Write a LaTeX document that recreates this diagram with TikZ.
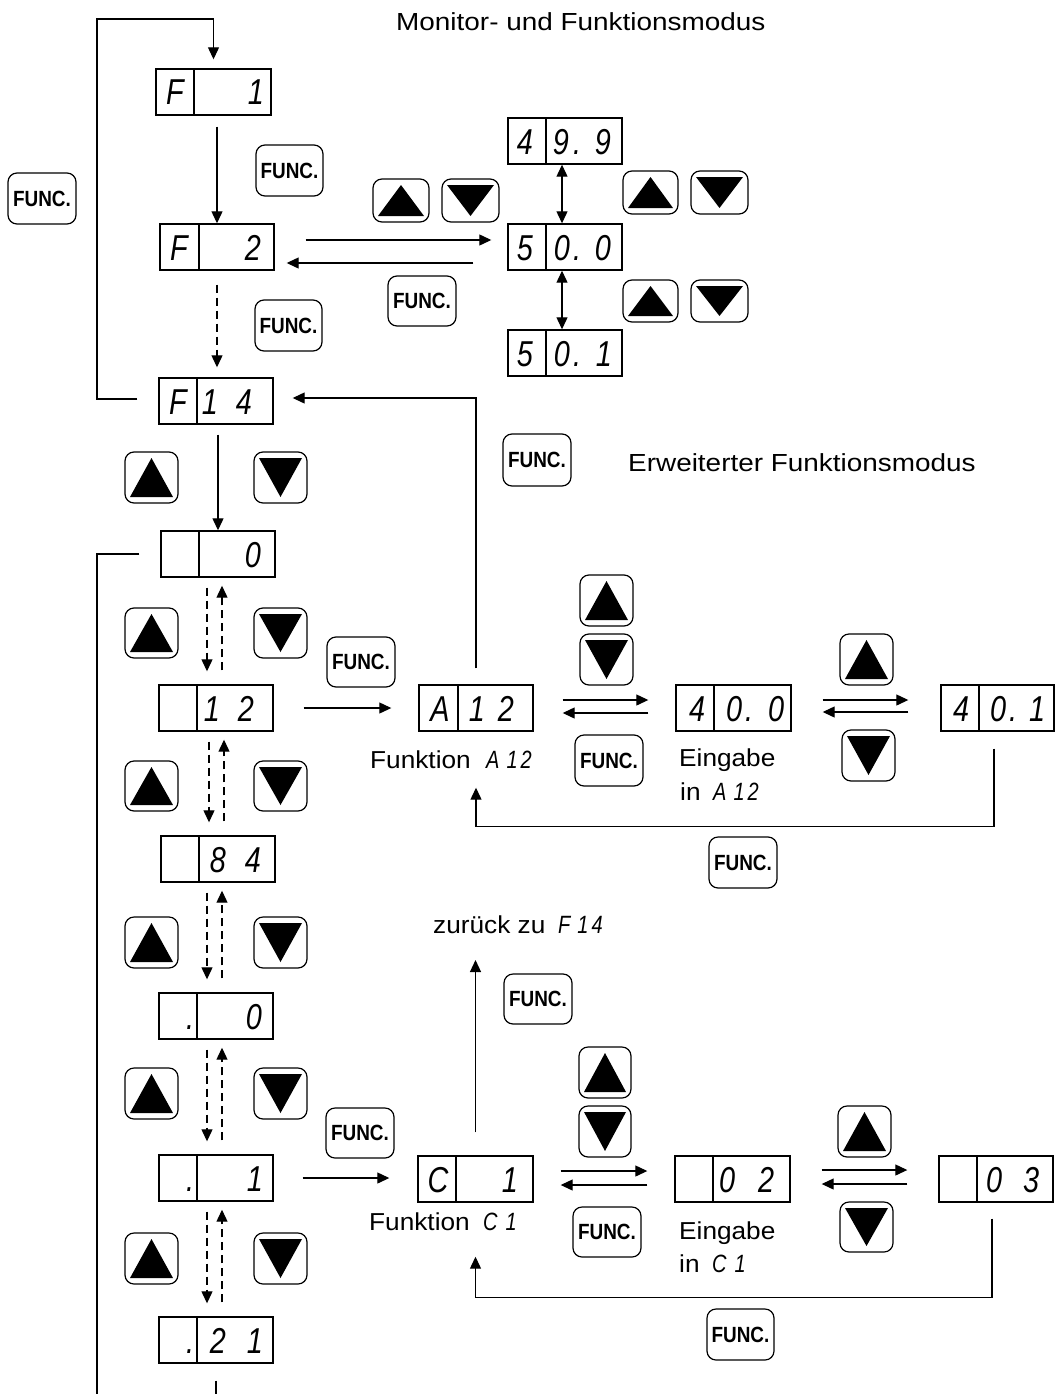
\documentclass[tikz,border=0pt]{standalone}
\usepackage{fontspec}
\setmainfont{Liberation Sans}
\newfontfamily\titlefont{Liberation Sans}[FakeStretch=1.13]
\newfontfamily\labfont{Liberation Sans}[FakeStretch=1.07]
\newfontfamily\funcfont{Liberation Sans}[FakeStretch=0.86]
\newfontfamily\segfont{Liberation Sans}[FakeStretch=0.8]
\usetikzlibrary{arrows.meta,calc}
\tikzset{
 disp/.style={draw, line width=1.4pt, inner sep=0pt, rectangle},
 dispdiv/.style={line width=1.2pt},
 seg/.style={font=\segfont\itshape\fontsize{36}{40}\selectfont, anchor=base, inner sep=0pt},
 segs/.style={font=\segfont\itshape\fontsize{25}{28}\selectfont, anchor=base west, inner sep=0pt},
 lab/.style={font=\labfont\fontsize{24.5}{28}\selectfont, anchor=base west, inner sep=0pt},
 ttl/.style={font=\titlefont\fontsize{24.7}{28}\selectfont, anchor=base west, inner sep=0pt},
 fbtn/.style={draw, rounded corners=9pt, line width=1.2pt, inner sep=0pt, font=\funcfont\bfseries\fontsize{22}{24}\selectfont},
 abtn/.style={draw, rounded corners=9pt, line width=1.2pt, inner sep=0pt},
 conn/.style={line width=1.2pt},
 arr/.style={conn, -{Triangle[length=12pt,width=11pt]}},
 darr/.style={arr, dash pattern=on 8pt off 5pt},
 arr2/.style={conn, {Triangle[length=12pt,width=11pt]}-{Triangle[length=12pt,width=11pt]}},
}
\newcommand\dispbox[6]{\node[disp, minimum width={(#4-#2)*1pt}, minimum height={(#5-#3)*1pt}] (#1) at ({(#2+#4)/2},{(#3+#5)/2}) {};\draw[dispdiv] (#6,#3) -- (#6,#5);}
\newcommand\sgd[4]{\node[seg] (#1) at (#2,#3) {#4};}
\newcommand\upbtn[5]{\node[abtn, minimum width={(#4-#2)*1pt}, minimum height={(#5-#3)*1pt}] (#1) at ({(#2+#4)/2},{(#3+#5)/2}) {};\fill ({#2+5},{#5-6}) -- ({#4-5},{#5-6}) -- ({(#2+#4)/2},{#3+6}) -- cycle;}
\newcommand\dnbtn[5]{\node[abtn, minimum width={(#4-#2)*1pt}, minimum height={(#5-#3)*1pt}] (#1) at ({(#2+#4)/2},{(#3+#5)/2}) {};\fill ({#2+5},{#3+6}) -- ({#4-5},{#3+6}) -- ({(#2+#4)/2},{#5-6}) -- cycle;}
\newcommand\funcbtn[5]{\node[fbtn, minimum width={(#4-#2)*1pt}, minimum height={(#5-#3)*1pt}] (#1) at ({(#2+#4)/2},{(#3+#5)/2}) {FUNC.};}
\newcommand\dpair[2]{%
 \draw[darr] ($(#1.south -| #2.north)+(-9,10)$) -- ($(#2.north)+(-9,-13)$);
 \draw[darr] ($(#2.north)+(6,-14)$) -- ($(#1.south -| #2.north)+(6,8)$);}
\begin{document}
\begin{tikzpicture}[x=1pt,y=-1pt]
\useasboundingbox (0,0) rectangle (1055,1394);
% titles
\node[ttl] (title1) at (396,31) {Monitor- und Funktionsmodus};
\node[ttl] (title2) at (628,471) {Erweiterter Funktionsmodus};
% displays
\dispbox{f1}{156}{69}{271}{115}{194}
\sgd{f1a}{175}{105}{F}\sgd{f1b}{256}{105}{1}
\dispbox{f2}{160}{224}{274}{270}{199}
\sgd{f2a}{179}{260}{F}\sgd{f2b}{253}{260}{2}
\dispbox{f14}{159}{378}{273}{424}{197}
\sgd{f14a}{178}{414}{F}\sgd{f14b}{210}{414}{1}\sgd{f14c}{244}{414}{4}
\dispbox{z0}{161}{531}{275}{577}{199}
\sgd{z0a}{253}{567}{0}
\dispbox{n12}{159}{685}{273}{731}{197}
\sgd{n12a}{212}{721}{1}\sgd{n12b}{246}{721}{2}
\dispbox{n84}{161}{836}{275}{882}{199}
\sgd{n84a}{218}{872}{8}\sgd{n84b}{253}{872}{4}
\dispbox{p0}{159}{993}{273}{1039}{197}
\sgd{p0a}{190}{1029}{.}\sgd{p0b}{254}{1029}{0}
\dispbox{p1}{159}{1155}{273}{1201}{197}
\sgd{p1a}{190}{1191}{.}\sgd{p1b}{255}{1191}{1}
\dispbox{p21}{159}{1317}{273}{1363}{197}
\sgd{p21a}{190}{1353}{.}\sgd{p21b}{218}{1353}{2}\sgd{p21c}{255}{1353}{1}
\dispbox{v499}{508}{118}{622}{164}{546}
\sgd{v499a}{525}{154}{4}\sgd{v499b}{561}{154}{9}\sgd{v499c}{577}{154}{.}\sgd{v499d}{603}{154}{9}
\dispbox{v500}{508}{224}{622}{270}{546}
\sgd{v500a}{525}{260}{5}\sgd{v500b}{562}{260}{0}\sgd{v500c}{577}{260}{.}\sgd{v500d}{603}{260}{0}
\dispbox{v501}{508}{330}{622}{376}{546}
\sgd{v501a}{525}{366}{5}\sgd{v501b}{562}{366}{0}\sgd{v501c}{577}{366}{.}\sgd{v501d}{604}{366}{1}
\dispbox{a12}{419}{685}{533}{731}{458}
\sgd{a12a}{440}{721}{A}\sgd{a12b}{477}{721}{1}\sgd{a12c}{506}{721}{2}
\dispbox{v400}{676}{685}{791}{731}{714}
\sgd{v400a}{697}{721}{4}\sgd{v400b}{734}{721}{0}\sgd{v400c}{749}{721}{.}\sgd{v400d}{776}{721}{0}
\dispbox{v401}{941}{685}{1054}{731}{979}
\sgd{v401a}{961}{721}{4}\sgd{v401b}{998}{721}{0}\sgd{v401c}{1013}{721}{.}\sgd{v401d}{1037}{721}{1}
\dispbox{c1}{418}{1156}{533}{1202}{456}
\sgd{c1a}{438}{1192}{C}\sgd{c1b}{510}{1192}{1}
\dispbox{v02}{675}{1156}{790}{1202}{713}
\sgd{v02a}{727}{1192}{0}\sgd{v02b}{766}{1192}{2}
\dispbox{v03}{939}{1156}{1053}{1202}{977}
\sgd{v03a}{994}{1192}{0}\sgd{v03b}{1031}{1192}{3}
% FUNC buttons
\funcbtn{fb1}{256}{145}{323}{196}
\funcbtn{fb2}{8}{173}{76}{224}
\funcbtn{fb3}{255}{300}{322}{351}
\funcbtn{fb4}{388}{276}{456}{326}
\funcbtn{fb5}{503}{434}{571}{486}
\funcbtn{fb6}{327}{637}{395}{687}
\funcbtn{fb7}{575}{735}{643}{786}
\funcbtn{fb8}{709}{837}{777}{888}
\funcbtn{fb9}{504}{974}{572}{1024}
\funcbtn{fb10}{326}{1108}{394}{1158}
\funcbtn{fb11}{573}{1207}{641}{1257}
\funcbtn{fb12}{707}{1309}{774}{1360}
% arrow buttons
\upbtn{u1}{373}{179}{429}{222}\dnbtn{d1}{442}{179}{499}{222}
\upbtn{u2}{623}{171}{678}{214}\dnbtn{d2}{691}{171}{748}{214}
\upbtn{u3}{623}{280}{678}{322}\dnbtn{d3}{691}{280}{748}{322}
\upbtn{ul1}{125}{452}{178}{503}\dnbtn{dl1}{254}{452}{307}{503}
\upbtn{ul2}{125}{608}{178}{658}\dnbtn{dl2}{254}{608}{307}{658}
\upbtn{ul3}{125}{761}{178}{811}\dnbtn{dl3}{254}{761}{307}{811}
\upbtn{ul4}{125}{917}{178}{968}\dnbtn{dl4}{254}{917}{307}{968}
\upbtn{ul5}{125}{1068}{178}{1119}\dnbtn{dl5}{254}{1068}{307}{1119}
\upbtn{ul6}{125}{1233}{178}{1284}\dnbtn{dl6}{254}{1233}{307}{1284}
\upbtn{ua}{580}{575}{633}{626}\dnbtn{da}{580}{634}{633}{685}
\upbtn{ub}{840}{634}{893}{685}\dnbtn{db}{842}{730}{895}{781}
\upbtn{uc}{579}{1047}{631}{1098}\dnbtn{dc}{579}{1106}{631}{1157}
\upbtn{ud}{838}{1106}{891}{1157}\dnbtn{dd}{840}{1202}{893}{1252}
% labels
\node[lab] (lf1) at (370,768) {Funktion};
\node[segs] (lf1s) at (486,768) {A\hspace{7pt}1\hspace{3pt}2};
\node[lab] (le1) at (679,766) {Eingabe};
\node[lab] (li1) at (680,800) {in};
\node[segs] (li1s) at (713,800) {A\hspace{7pt}1\hspace{3pt}2};
\node[lab] (lz) at (433,933) {zurück zu};
\node[segs] (lzs) at (558,933) {F\hspace{7pt}1\hspace{3pt}4};
\node[lab] (lf2) at (369,1230) {Funktion};
\node[segs] (lf2s) at (483,1230) {C\hspace{8pt}1};
\node[lab] (le2) at (679,1239) {Eingabe};
\node[lab] (li2) at (679,1272) {in};
\node[segs] (li2s) at (712,1272) {C\hspace{8pt}1};
% free ends
\coordinate (tl) at (97,19);
\coordinate (bl) at (97,1394);
\coordinate (bm) at (216,1394);
\coordinate (ztip) at (475.5,960);
% connectors
\draw[arr] ($(f14.west)+(-21,-2)$) -| (tl) -| ($(f1.north)+(0,-9)$);
\draw[arr] ($(f1.south -| f2.north)+(0,11)$) -- (f2.north);
\draw[darr] ($(f2.south)+(0,14)$) -- ($(f2.south |- f14.north)+(0,-10)$);
\draw[arr] ($(f2.east)+(31,-7)$) -- ($(v500.west)+(-16,-7)$);
\draw[arr] ($(v500.west)+(-34,16)$) -- ($(f2.east)+(12,16)$);
\draw[arr2] ($(v499.south)+(-3,0)$) -- ($(v500.north)+(-3,0)$);
\draw[arr2] ($(v500.south)+(-3,0)$) -- ($(v501.north)+(-3,0)$);
\draw[arr] ($(a12.north)+(0,-16)$) |- ($(f14.east)+(19,-3)$);
\draw[arr] ($(f14.south -| z0.north)+(0,10)$) -- (z0.north);
\draw[conn] ($(z0.west)+(-21,0)$) -| (bl);
\dpair{z0}{n12}
\dpair{n12}{n84}
\dpair{n84}{p0}
\dpair{p0}{p1}
\dpair{p1}{p21}
\draw[arr] ($(n12.east)+(30,0)$) -- ($(a12.west)+(-27,0)$);
\draw[arr] ($(a12.east)+(29,-8)$) -- ($(v400.west)+(-27,-8)$);
\draw[arr] ($(v400.west)+(-27,5)$) -- ($(a12.east)+(29,5)$);
\draw[arr] ($(v400.east)+(31,-8)$) -- ($(v401.west)+(-32,-8)$);
\draw[arr] ($(v401.west)+(-32,4)$) -- ($(v400.east)+(31,4)$);
\draw[arr] ($(v401.south)+(-3.5,17)$) |- ($(a12.south)+(0,95)$) -- ($(a12.south)+(0,56)$);
\draw[arr] ($(p1.east)+(29,0)$) -- ($(c1.west |- p1.east)+(-28,0)$);
\draw[arr] ($(c1.north)+(0,-23)$) -- (ztip);
\draw[arr] ($(c1.east)+(27,-8)$) -- ($(v02.west)+(-27,-8)$);
\draw[arr] ($(v02.west)+(-27,6)$) -- ($(c1.east)+(27,6)$);
\draw[arr] ($(v02.east)+(31,-9)$) -- ($(v03.west)+(-31,-9)$);
\draw[arr] ($(v03.west)+(-31,5)$) -- ($(v02.east)+(31,5)$);
\draw[arr] ($(v03.south)+(-4,16)$) |- ($(c1.south)+(0,95)$) -- ($(c1.south)+(0,54)$);
\draw[conn] ($(p21.south)+(0,17)$) -- (bm);
\end{tikzpicture}
\end{document}
